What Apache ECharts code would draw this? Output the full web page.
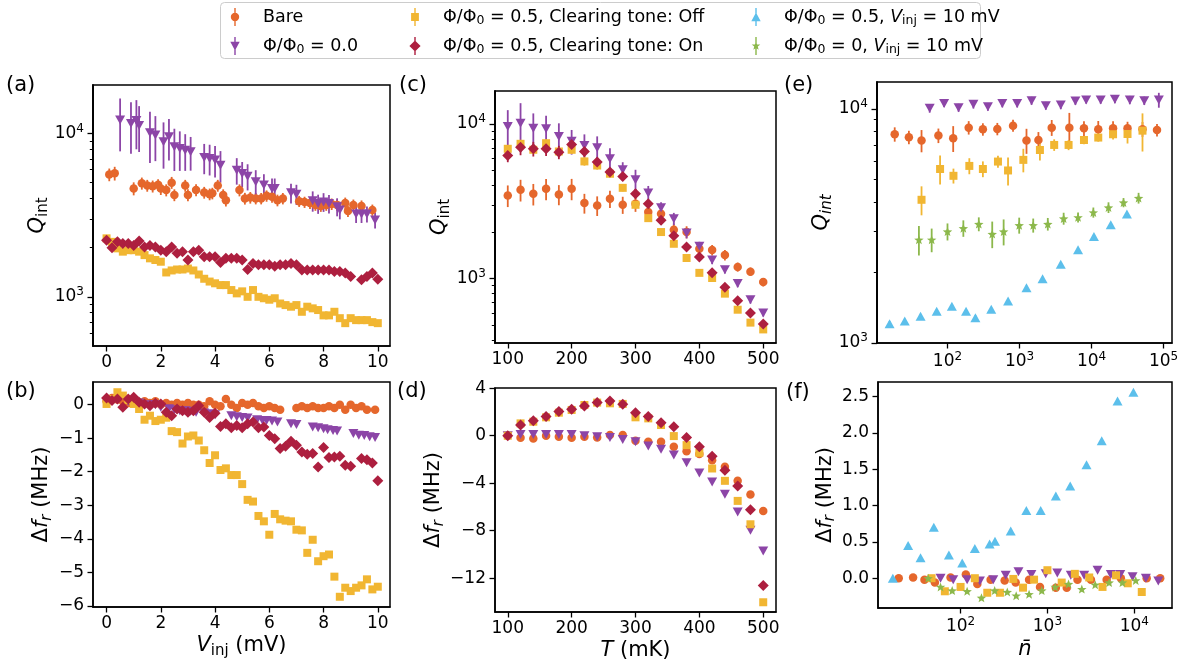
<!DOCTYPE html>
<html><head><meta charset="utf-8">
<script src="https://cdn.jsdelivr.net/npm/echarts@6/dist/echarts.min.js"></script>
<style>html,body{margin:0;padding:0;background:#fff}#c{width:1185px;height:663px}</style>
</head><body><div id="c"></div>
<script>
// ---------- DATA ----------
// Panel (a): Q_int vs V_inj (mV)
const aBareX = [0.1,0.3,1.0,1.3,1.5,1.7,1.9,2.0,2.2,2.4,2.5,2.9,3.0,3.3,3.6,3.8,3.9,4.1,4.3,4.4,4.9,5.1,5.3,5.5,5.7,5.9,6.1,6.3,6.5,7.1,7.3,7.5,7.7,7.9,8.1,8.3,8.5,8.8,8.9,9.1,9.4,9.8];
const aBareY = [5600,5700,4600,4950,4800,4750,4850,4600,4500,5000,4200,4800,4200,4500,4350,4250,4300,4800,4200,3900,4500,4000,4050,4000,4000,4150,4100,3900,4000,3850,3800,3750,3650,3600,3650,3700,3650,3750,3350,3650,3600,3400];
const aBareE = [500,550,420,420,400,400,400,400,380,420,350,400,360,380,360,350,350,400,350,330,380,330,330,320,320,330,330,320,320,300,300,300,290,290,290,300,290,300,270,290,290,270];
const aPhiX = [0.5,0.9,1.1,1.2,1.6,1.8,2.1,2.3,2.5,2.7,2.9,3.1,3.6,3.8,4.0,4.2,4.8,5.0,5.2,5.5,5.8,6.1,6.2,6.8,7.0,7.6,7.8,8.0,8.2,8.5,8.6,9.2,9.4,9.6,9.9];
const aPhiY = [12070,11500,12000,11200,10100,9770,8890,9540,8290,8100,7900,7720,7130,7030,6870,6400,5960,5690,5480,5060,4830,4600,4600,4330,4250,3870,3720,3810,3720,3560,3400,3210,3210,3210,2950];
const aPhiE = [4300,4000,4000,3500,3500,3000,2800,2700,2400,2200,2000,1800,1500,1500,1500,1400,1100,1000,1000,900,800,700,700,600,600,550,500,500,480,450,420,380,380,360,330];
const aOffX = [0,0.2,0.4,0.6,0.8,1.0,1.2,1.4,1.6,1.8,2.0,2.2,2.4,2.6,2.8,3.0,3.2,3.4,3.6,3.8,4.0,4.2,4.4,4.6,4.8,5.0,5.2,5.4,5.6,5.8,6.0,6.2,6.4,6.6,6.8,7.0,7.2,7.4,7.6,7.8,8.0,8.2,8.4,8.6,8.8,9.0,9.2,9.4,9.6,9.8,10.0];
const aOffY = [2280,2170,1980,1890,1930,1930,1890,1800,1720,1680,1640,1410,1450,1470,1470,1490,1450,1370,1290,1240,1210,1180,1180,1100,1050,1080,1000,1100,1000,980,960,980,910,890,870,890,810,870,850,830,770,770,810,740,690,740,720,720,720,700,690];
const aOffE = [90,85,80,75,75,75,75,70,70,65,65,55,60,60,60,60,55,55,50,50,50,45,45,45,42,45,40,45,40,40,38,40,36,35,35,35,32,35,34,33,30,30,32,30,28,30,28,28,28,28,27];
const aOnX = [0,0.2,0.4,0.6,0.8,1.0,1.2,1.4,1.6,1.8,2.0,2.2,2.4,2.6,2.8,3.0,3.2,3.4,3.6,3.8,4.0,4.2,4.4,4.6,4.8,5.0,5.2,5.4,5.6,5.8,6.0,6.2,6.4,6.6,6.8,7.0,7.2,7.4,7.6,7.8,8.0,8.2,8.4,8.6,8.8,9.0,9.4,9.6,9.8,10.0];
const aOnY = [2220,2000,2170,2120,2120,2060,2200,2020,2060,2020,1930,1890,2020,1850,1890,1680,1890,1930,1760,1760,1760,1620,1720,1720,1720,1680,1470,1600,1570,1570,1570,1540,1570,1570,1600,1570,1460,1460,1460,1460,1460,1460,1430,1430,1400,1330,1270,1330,1400,1280];
const aOnE = [110,100,110,105,105,100,110,100,100,100,95,95,100,90,95,85,95,95,90,90,90,80,85,85,85,85,75,80,80,80,80,75,80,80,80,80,75,75,75,75,75,75,70,70,70,65,65,65,70,65];

// Panel (b): Delta f_r (MHz) vs V_inj (mV)
const bBareX = [0,0.2,0.4,0.6,0.8,1.0,1.2,1.4,1.6,1.8,2.0,2.2,2.4,2.6,2.8,3.0,3.2,3.4,3.6,3.8,4.0,4.2,4.4,4.6,4.8,5.0,5.2,5.4,5.6,5.8,6.0,6.2,6.4,7.0,7.2,7.4,7.6,7.8,8.0,8.2,8.4,8.6,8.8,9.0,9.2,9.4,9.6,9.9];
const bBareY = [0.1,0.2,0.15,0.1,0.05,0.1,0.05,0.1,0.05,0.1,0.0,0.05,0.0,0.05,0.0,0.05,0.0,0.0,-0.05,0.1,0.0,-0.05,0.17,0.0,-0.1,0.05,0.0,0.05,-0.05,-0.1,-0.05,-0.1,-0.15,-0.1,-0.05,-0.1,-0.05,-0.1,-0.1,-0.05,-0.1,0.0,-0.15,0.0,-0.1,-0.05,-0.15,-0.15];
const bPhiX = [0.4,0.8,1.0,1.2,1.6,1.8,2.0,2.3,2.5,2.7,2.9,3.1,3.3,3.6,3.8,4.0,4.6,4.8,5.0,5.2,5.55,5.75,5.9,6.1,6.3,6.8,7.0,7.6,7.8,8.0,8.15,8.35,8.5,9.1,9.3,9.5,9.7,9.9];
const bPhiY = [0.15,0.1,0.1,0.05,0.0,0.0,-0.08,-0.12,-0.15,-0.18,-0.18,-0.2,-0.23,-0.25,-0.27,-0.3,-0.33,-0.36,-0.38,-0.4,-0.45,-0.47,-0.47,-0.49,-0.52,-0.57,-0.59,-0.67,-0.69,-0.72,-0.75,-0.77,-0.79,-0.86,-0.91,-0.92,-0.96,-0.98];
const bOffY = [0.02,0.17,0.37,0.27,0.14,0.02,-0.13,-0.45,-0.33,-0.49,-0.45,-0.39,-0.79,-0.82,-1.16,-0.95,-0.92,-1.07,-1.36,-1.74,-1.51,-1.95,-1.9,-2.1,-2.1,-2.37,-2.84,-2.89,-3.32,-3.48,-3.88,-3.26,-3.42,-3.46,-3.48,-3.73,-3.75,-4.42,-4.03,-4.67,-4.52,-4.47,-5.13,-5.73,-5.46,-5.56,-5.46,-5.39,-5.21,-5.51,-5.43];
const bOnY = [0.2,0.12,0.17,-0.08,0.17,0.22,0.07,0.02,-0.03,0.04,0.02,-0.23,-0.33,-0.13,-0.18,-0.23,-0.18,-0.03,-0.23,-0.38,-0.26,-0.65,-0.57,-0.69,-0.62,-0.69,-0.57,-0.52,-0.69,-0.67,-0.92,-1.02,-1.31,-1.24,-1.09,-1.21,-1.41,-1.48,-1.46,-1.86,-1.28,-1.58,-1.56,-1.54,-1.81,-1.84,-1.61,-1.64,-1.74,-2.27];

// Panels (c), (d): vs T (mK)
const temps = [100,120,140,160,180,200,220,240,260,280,300,320,340,360,380,400,420,440,460,480,500];
const cBareY = [3450,3750,3530,3810,3500,3810,3080,2970,3280,3000,3050,2690,2630,2070,2000,1560,1530,1420,1190,1110,950];
const cBareE = [550,600,560,600,520,600,450,430,420,380,350,280,250,200,180,130,120,110,80,70,60];
const cPhiY = [9610,10100,9380,9280,8280,7730,7250,7000,5950,5050,4350,3570,2870,2440,1970,1620,1320,1140,930,730,600];
const cPhiE = [2650,3500,2300,2000,1800,1400,1300,1300,1000,600,700,400,250,220,150,110,80,60,50,40,30];
const cOffY = [6900,7430,6800,7500,6630,6800,5720,5380,4760,3860,3000,2460,2000,1680,1360,1090,1010,800,630,520,470];
const cOffE = [400,450,400,450,400,400,350,320,280,200,150,120,100,80,60,50,45,35,30,25,20];
const cOnY = [6250,7070,6900,6900,6560,7360,6630,5660,4880,4570,3540,3050,2380,1890,1600,1380,1090,880,720,600,510];
const cOnE = [600,800,750,700,650,600,500,400,300,300,250,180,150,120,90,70,60,40,30,25,20];
const dBareY = [0,-0.17,-0.23,0,-0.08,-0.17,-0.08,-0.14,0.06,0.06,-0.42,-0.5,-0.5,-0.93,-1.3,-1.55,-2.06,-2.62,-3.8,-4.96,-6.34];
const dPhiY = [0,0.11,0.11,0.11,0.11,0.11,0,-0.08,-0.14,-0.31,-0.5,-0.87,-1.13,-1.63,-2.28,-3.13,-3.89,-4.93,-6.42,-7.97,-9.72];
const dOffY = [0,1.04,1.18,1.55,1.94,2.17,2.59,2.79,2.73,2.68,1.55,1.46,0.9,-0.03,-0.79,-1.44,-2.76,-3.8,-5.49,-7.46,-14.03];
const dOnY = [0,0.9,1.27,1.61,2.03,2.23,2.51,2.79,2.93,2.65,1.94,1.61,1.1,0.76,-0.14,-0.93,-1.72,-2.9,-4.23,-6.23,-12.62];

// Panel (e): Q_int vs mean photon number
const eBareX = [18.5,29.1,43.6,74.8,120,197,310,492,813,1250,1830,2800,4920,7850,12400,19900,31600,51000,81100];
const eBareY = [7800,7570,7330,7700,7500,8325,8190,8220,8490,7330,7370,8325,8325,8270,8190,8270,8270,8200,8130];
const eBareE = [550,500,800,550,950,550,500,500,500,900,600,650,1300,600,700,600,550,600,500];
const ePhiX = [56.6,89.8,142.6,229,364,577,928,1470,2320,3740,5970,8420,13400,21100,34000,54000,86000];
const ePhiY = [10070,10570,10130,10470,10230,10570,10570,10850,10330,10400,10820,10930,10930,11000,10930,10850,10930];
const ePhiE = [420,380,400,420,390,400,410,430,400,420,400,380,400,420,450,450,800];
const eOffX = [43.6,78.9,121,201,310,502,693,1130,1920,3030,4800,7850,12400,19900,31600,51000];
const eOffY = [4090,5540,5180,5710,5540,5960,5460,6060,6680,7020,7020,7370,7550,7800,7820,8080];
const eOffE = [580,780,380,450,430,350,750,700,650,400,350,300,300,400,700,1500];
const eHalfX = [15.7,25.5,42.3,70.8,115,181,244,405,694,1250,2090,3740,6500,10800,18500,31000];
const eHalfY = [1205,1238,1300,1365,1435,1365,1280,1390,1510,1720,1880,2170,2500,2850,3200,3560];
const eHalfE = [35,30,30,30,30,30,35,30,30,35,35,35,40,40,45,45];
const eZeroX = [40.1,60.3,100,166,272,418,602,990,1550,2470,4100,6500,10600,17200,27800,45000];
const eZeroY = [2760,2760,2990,3090,3220,2920,2990,3180,3180,3220,3400,3440,3610,3790,3980,4160];
const eZeroE = [400,320,250,250,220,380,380,250,220,200,200,170,180,200,180,220];

// Panel (f): Delta f_r (MHz) vs mean photon number
const fBareX = [19.4,28.4,38.4,50.6,76.7,115,156,222,322,431,615,822,1250,1670,2220,3170,4810,7010,13900,19900];
const fBareY = [0,0.01,-0.02,-0.06,0.01,0.05,-0.08,-0.02,-0.03,-0.06,-0.02,-0.12,-0.13,-0.13,-0.02,-0.02,-0.02,0,0,0];
const fPhiX = [58.8,82.3,119,167,238,331,464,654,956,1300,1860,2650,3780,5370,6900,9560,13600,18900];
const fPhiY = [0,-0.02,-0.02,-0.04,-0.02,0.04,0.09,0.05,0.06,0.07,0.04,0.04,0.11,0.05,0.05,0.02,0,-0.04];
const fOffX = [46.3,65.9,100,146,203,284,405,524,702,1000,1460,2070,3030,4310,6170,8420,12200];
const fOffY = [0,-0.18,-0.12,0,-0.2,-0.2,-0.01,-0.13,-0.02,0.11,-0.06,0.06,0.01,-0.12,0.04,-0.07,-0.19];
const fHalfX = [16.6,24.9,34.6,49.2,73.4,104.5,146,216,249,378,572,837,1250,1830,2820,4220,6420,9780];
const fHalfY = [0,0.45,0.28,0.70,0.32,0.21,0.41,0.47,0.51,0.65,0.93,0.93,1.13,1.27,1.56,1.89,2.44,2.56];
const fZeroX = [42.4,58.8,80.1,119,174,247,345,437,615,861,1230,1750,2490,3550,5140,7300,10400];
const fZeroY = [0,-0.12,-0.17,-0.18,-0.27,-0.17,-0.19,-0.24,-0.22,-0.17,-0.12,-0.08,-0.15,-0.09,-0.06,-0.06,-0.03];

// Ticks
const vinjTicks = [0,2,4,6,8,10];
const bYTicks = [-6,-5,-4,-3,-2,-1,0];
const tTicks = [100,200,300,400,500];
const dYTicks = [-12,-8,-4,0,4];
const fYTicks = [0,0.5,1.0,1.5,2.0,2.5];
const qMajor = [1000,10000];
const aMinor = [600,700,800,900,2000,3000,4000,5000,6000,7000,8000,9000];
const cMinor = [400,500,600,700,800,900,2000,3000,4000,5000,6000,7000,8000,9000];
const eMinor = [2000,3000,4000,5000,6000,7000,8000,9000];
const eXTicks = [100,1000,10000,100000];
const fXTicks = [100,1000,10000];

// ---------- STYLE ----------
const FONT = 'DejaVu Sans';
const COL = {bare:'#E5672C', phi0:'#8C45A7', off:'#F1B632', on:'#AD1F3F', half:'#5CBFEB', zero:'#8CB84B'};
const NAME = {bare:'Bare', phi0:'Φ/Φ0 = 0.0', off:'Φ/Φ0 = 0.5, Clearing tone: Off', on:'Φ/Φ0 = 0.5, Clearing tone: On', half:'Φ/Φ0 = 0.5, Vinj = 10 mV', zero:'Φ/Φ0 = 0, Vinj = 10 mV'};
const STAR = 'path://M6,4.5 L7.117,7.463 L10.28,7.61 L7.807,9.587 L8.645,12.64 L6,10.9 L3.355,12.64 L4.193,9.587 L1.72,7.61 L4.883,7.463 Z';
const SYM = {
  bare:{symbol:'circle', size:8.5, rot:0},
  phi0:{symbol:'triangle', size:[10,9], rot:180},
  off:{symbol:'rect', size:8, rot:0},
  on:{symbol:'diamond', size:[11,11], rot:0},
  half:{symbol:'triangle', size:[10,9], rot:0},
  zero:{symbol:STAR, size:[9.5,9], rot:0}
};
const ANCH = 'M0,9 L0.001,9 Z M12,9 L11.999,9 Z M6,0 L6.001,0 Z M6,18 L6.001,18 Z ';
const BAR = 'M5.3,0 L6.7,0 L6.7,18 L5.3,18 Z ';
const ICON = {
  bare:'path://' + ANCH + BAR + 'M10.2,9 A4.2,4.2 0 1 1 1.8,9 A4.2,4.2 0 1 1 10.2,9 Z',
  phi0:'path://' + ANCH + BAR + 'M1.3,4.7 L10.7,4.7 L6,13.5 Z',
  off:'path://' + ANCH + BAR + 'M2.1,5.1 L9.9,5.1 L9.9,12.9 L2.1,12.9 Z',
  on:'path://' + ANCH + BAR + 'M6,3.4 L11.6,9 L6,14.6 L0.4,9 Z',
  half:'path://' + ANCH + BAR + 'M6,4.5 L10.7,13.3 L1.3,13.3 Z',
  zero:'path://' + ANCH + BAR + 'M6,4.5 L7.117,7.463 L10.28,7.61 L7.807,9.587 L8.645,12.64 L6,10.9 L3.355,12.64 L4.193,9.587 L1.72,7.61 L4.883,7.463 Z'
};

function errRender(params, api) {
  const x = api.value(0), lo = api.value(1), hi = api.value(2);
  const p1 = api.coord([x, lo]), p2 = api.coord([x, hi]);
  return {type:'line', shape:{x1:p1[0], y1:p1[1], x2:p2[0], y2:p2[1]},
          style:{stroke: api.visual('color'), lineWidth: 1.8}};
}
function scat(key, gi, xs, ys) {
  const s = SYM[key];
  return {type:'scatter', name:NAME[key], xAxisIndex:gi, yAxisIndex:gi,
    data: xs.map((x, i) => [x, ys[i]]), symbol:s.symbol, symbolSize:s.size, symbolRotate:s.rot,
    itemStyle:{color:COL[key], opacity:1}, emphasis:{disabled:true}, silent:true, clip:true, animation:false};
}
function errs(key, gi, xs, ys, es) {
  return {type:'custom', name:NAME[key], xAxisIndex:gi, yAxisIndex:gi,
    data: xs.map((x, i) => [x, ys[i] - es[i], ys[i] + es[i]]), encode:{x:0, y:[1, 2]},
    renderItem: errRender, itemStyle:{color:COL[key]}, silent:true, clip:true, animation:false};
}
const minus = v => String(v).replace('-', '\u2212');
const pow10 = v => '{b|10}{sup|' + Math.round(Math.log10(v)) + '}';
const tickRich = {
  b:{fontFamily:FONT, fontSize:17, color:'#000', lineHeight:22, verticalAlign:'middle'},
  sup:{fontFamily:FONT, fontSize:12, color:'#000', lineHeight:11, verticalAlign:'top'}
};
const nameStyle = {fontFamily:FONT, fontSize:21, color:'#000', lineHeight:26, rich:{
  i:{fontFamily:FONT, fontStyle:'italic', fontSize:21, color:'#000', lineHeight:26},
  sub:{fontFamily:FONT, fontSize:15, color:'#000', lineHeight:15, verticalAlign:'bottom'},
  subi:{fontFamily:FONT, fontStyle:'italic', fontSize:15, color:'#000', lineHeight:15, verticalAlign:'bottom'}
}};
const mkLine = () => ({show:true, onZero:false, lineStyle:{color:'#000', width:1.5}});
function axis(kind, gi, type, min, max, ticks, fmt, extra) {
  const a = {type, gridIndex:gi, min, max, position: kind === 'x' ? 'bottom' : 'left',
    axisLine:mkLine(),
    axisTick:{show:true, customValues:ticks, length:5.5, inside:false, lineStyle:{color:'#000', width:1.3}},
    axisLabel:{show:true, customValues:ticks, margin: kind === 'x' ? 8 : 9, color:'#000', fontFamily:FONT, fontSize:17, formatter:fmt, rich:tickRich},
    splitLine:{show:false}, minorTick:{show:false}, minorSplitLine:{show:false}};
  if (type === 'log') a.logBase = 10;
  return Object.assign(a, extra || {});
}
function minorAxis(gi, min, max, ticks) {
  return {type:'log', logBase:10, gridIndex:gi, min, max, position:'left',
    axisLine:mkLine(), axisLabel:{show:false}, splitLine:{show:false},
    axisTick:{show:true, customValues:ticks, length:3.2, lineStyle:{color:'#000', width:1}}};
}

const yNameQ = {name:'{i|Q}{sub|int}', nameLocation:'middle', nameTextStyle:nameStyle};
const yNameQi = {name:'{i|Q}{subi|int}', nameLocation:'middle', nameTextStyle:nameStyle};
const yNameF = {name:'Δ{i|f}{subi|r} (MHz)', nameLocation:'middle', nameTextStyle:nameStyle};

const xAxes = [
  axis('x', 0, 'value', -0.5, 10.45, vinjTicks, minus),
  axis('x', 1, 'value', -0.5, 10.45, vinjTicks, minus, {name:'{i|V}{sub|inj} (mV)', nameLocation:'middle', nameGap:22, nameTextStyle:nameStyle}),
  axis('x', 2, 'value', 80, 520, tTicks, minus),
  axis('x', 3, 'value', 80, 520, tTicks, minus, {name:'{i|T} (mK)', nameLocation:'middle', nameGap:23, nameTextStyle:nameStyle}),
  axis('x', 4, 'log', 10.5, 131000, eXTicks, pow10),
  axis('x', 5, 'log', 11.2, 27200, fXTicks, pow10, {name:'{i|n\u0304}', nameLocation:'middle', nameGap:24, nameTextStyle:nameStyle})
];
const yAxes = [
  axis('y', 0, 'log', 500, 19800, qMajor, pow10, Object.assign({nameGap:38}, yNameQ)),
  axis('y', 1, 'value', -6.035, 0.675, bYTicks, minus, Object.assign({nameGap:32}, yNameF)),
  axis('y', 2, 'log', 384, 16300, qMajor, pow10, Object.assign({nameGap:37}, yNameQ)),
  axis('y', 3, 'value', -14.85, 4.02, dYTicks, minus, Object.assign({nameGap:45}, yNameF)),
  axis('y', 4, 'log', 998, 13050, qMajor, pow10, Object.assign({nameGap:37}, yNameQi)),
  axis('y', 5, 'value', -0.41, 2.70, fYTicks, v => v.toFixed(1), Object.assign({nameGap:37}, yNameF)),
  minorAxis(0, 500, 19800, aMinor),
  minorAxis(2, 384, 16300, cMinor),
  minorAxis(4, 998, 13050, eMinor)
];

const grids = [
  {left:93, top:85, width:297, height:261},
  {left:93, top:382, width:297, height:225},
  {left:495, top:91, width:281, height:252},
  {left:495, top:388, width:281, height:224},
  {left:877, top:82, width:295, height:261},
  {left:878, top:382, width:294, height:226}
].map(g => Object.assign(g, {show:true, borderColor:'#000', borderWidth:1.5, backgroundColor:'rgba(0,0,0,0)', containLabel:false, outerBoundsMode:'none'}));

const series = [
  // (a)
  errs('bare', 0, aBareX, aBareY, aBareE), scat('bare', 0, aBareX, aBareY),
  errs('phi0', 0, aPhiX, aPhiY, aPhiE), scat('phi0', 0, aPhiX, aPhiY),
  errs('off', 0, aOffX, aOffY, aOffE), scat('off', 0, aOffX, aOffY),
  errs('on', 0, aOnX, aOnY, aOnE), scat('on', 0, aOnX, aOnY),
  // (b)
  scat('bare', 1, bBareX, bBareY), scat('phi0', 1, bPhiX, bPhiY),
  scat('off', 1, aOffX, bOffY), scat('on', 1, aOnX, bOnY),
  // (c)
  errs('bare', 2, temps, cBareY, cBareE), scat('bare', 2, temps, cBareY),
  errs('phi0', 2, temps, cPhiY, cPhiE), scat('phi0', 2, temps, cPhiY),
  errs('off', 2, temps, cOffY, cOffE), scat('off', 2, temps, cOffY),
  errs('on', 2, temps, cOnY, cOnE), scat('on', 2, temps, cOnY),
  // (d)
  scat('bare', 3, temps, dBareY), scat('phi0', 3, temps, dPhiY),
  scat('off', 3, temps, dOffY), scat('on', 3, temps, dOnY),
  // (e)
  errs('bare', 4, eBareX, eBareY, eBareE), scat('bare', 4, eBareX, eBareY),
  errs('phi0', 4, ePhiX, ePhiY, ePhiE), scat('phi0', 4, ePhiX, ePhiY),
  errs('off', 4, eOffX, eOffY, eOffE), scat('off', 4, eOffX, eOffY),
  errs('half', 4, eHalfX, eHalfY, eHalfE), scat('half', 4, eHalfX, eHalfY),
  errs('zero', 4, eZeroX, eZeroY, eZeroE), scat('zero', 4, eZeroX, eZeroY),
  // (f)
  scat('bare', 5, fBareX, fBareY), scat('phi0', 5, fPhiX, fPhiY),
  scat('off', 5, fOffX, fOffY), scat('half', 5, fHalfX, fHalfY),
  scat('zero', 5, fZeroX, fZeroY)
];

const legFmt = n => n.replace('Φ0', 'Φ{sub|0}').replace('Vinj', '{it|V}{sub|inj}');
function legend(left, keys) {
  return {orient:'vertical', left, top:7, itemWidth:12, itemHeight:18, itemGap:9, selectedMode:false,
    formatter:legFmt, padding:0,
    textStyle:{fontFamily:FONT, fontSize:17.5, color:'#000', lineHeight:20, padding:[0,0,0,17], rich:{
      sub:{fontFamily:FONT, fontSize:12.5, color:'#000', lineHeight:12, verticalAlign:'bottom'},
      it:{fontFamily:FONT, fontStyle:'italic', fontSize:17.5, color:'#000', lineHeight:20}
    }},
    data: keys.map(k => ({name:NAME[k], icon:ICON[k], itemStyle:{color:COL[k]}}))};
}

const panelLabels = [['(a)',6,86],['(b)',6,392],['(c)',399,86],['(d)',397,392],['(e)',784,86],['(f)',786,393]];
const graphic = [{type:'rect', left:220, top:2, z:0, shape:{width:760, height:56, r:4}, style:{fill:'#fff', stroke:'#cccccc', lineWidth:1}}]
  .concat(panelLabels.map(p => ({type:'text', x:p[1], y:p[2], style:{text:p[0], font:'21px "DejaVu Sans"', fill:'#000', textAlign:'left', textVerticalAlign:'middle', verticalAlign:'middle'}})));

const chart = echarts.init(document.getElementById('c'), null, {renderer:'canvas'});
chart.setOption({
  animation:false, backgroundColor:'#fff',
  textStyle:{fontFamily:FONT},
  grid:grids, xAxis:xAxes, yAxis:yAxes, series,
  legend:[legend(229, ['bare','phi0']), legend(409, ['off','on']), legend(750, ['half','zero'])],
  graphic
});
</script></body></html>
